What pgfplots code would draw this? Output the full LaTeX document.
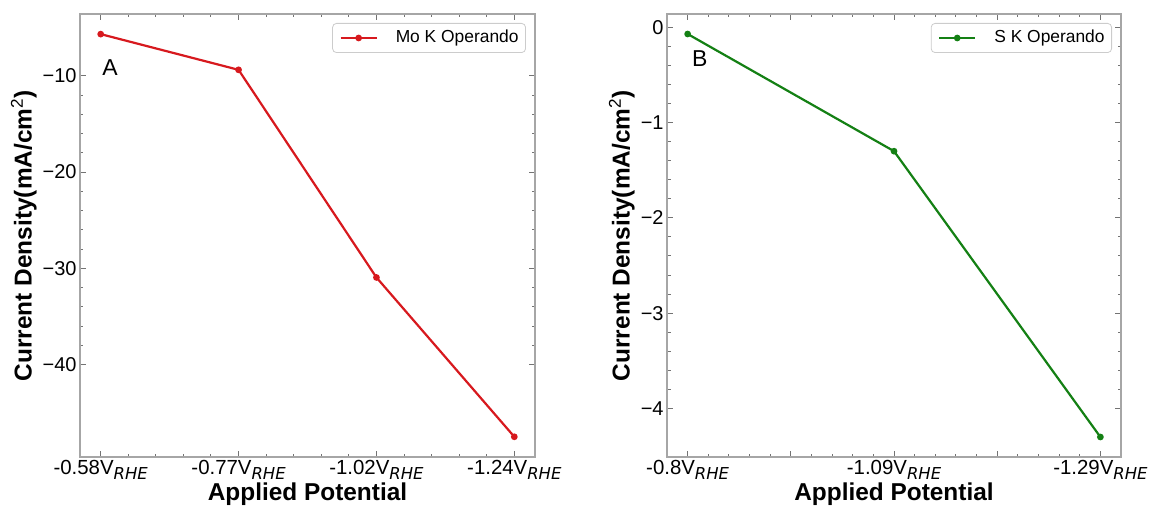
\documentclass[border=0pt]{standalone}
\usepackage{fontspec}
\setmainfont{Liberation Sans}
\newfontfamily\dejavu{DejaVu Sans}
\usepackage{pgfplots}
\pgfplotsset{compat=1.18}
\definecolor{myred}{RGB}{215,25,30}
\definecolor{mygreen}{RGB}{20,128,20}
\newcommand{\rhe}{\raisebox{-2.2pt}{\fontsize{8.2}{9}\selectfont\dejavu\itshape RHE}}
\pgfplotsset{
  common/.style={
    scale only axis,
    axis line style={black!35, line width=0.6pt},
    tick style={black!55, line width=0.5pt},
    tick align=inside,
    major tick length=3pt, minor tick length=1.75pt,
    minor tick num=4,
    xticklabel style={font=\fontsize{10.2}{12}\selectfont, inner sep=1.5pt},
    yticklabel style={font=\fontsize{10}{12}\selectfont, inner sep=1.5pt},
    xlabel style={font=\fontsize{12.2}{14}\selectfont\bfseries, anchor=north, inner sep=0pt},
    ylabel style={font=\fontsize{12.2}{14}\selectfont\bfseries, anchor=south, rotate=0, inner sep=0pt},
    xlabel={Applied Potential},
    ylabel={Current Density(mA/cm\textsuperscript{\normalfont 2})},
    legend style={at={(axis description cs:0.9802,0.9797)}, anchor=north east,
      draw=black!20, rounded corners=2pt, font=\fontsize{8.7}{10}\selectfont,
      inner xsep=3.5pt, inner ysep=3.4pt, nodes={inner sep=0pt},
      /tikz/every odd column/.append style={column sep=9pt}},
    legend cell align=left,
    legend image code/.code={\draw[mark repeat=2,mark phase=2,#1] plot coordinates {(0pt,0pt)(9pt,0pt)(18pt,0pt)};},
  }
}
\begin{document}
\begin{tikzpicture}
\path[use as bounding box] (0,0) rectangle (577.5pt,254pt);
\begin{axis}[common,
  at={(40pt,25.5pt)}, anchor=south west,
  width=227.5pt, height=221.5pt,
  xmin=-0.15, xmax=3.15, ymin=-49.6, ymax=-3.58,
  xtick={0,1,2,3},
  xticklabels={-0.58V\rhe,-0.77V\rhe,-1.02V\rhe,-1.24V\rhe},
  ytick={-40,-30,-20,-10},
  yticklabels={−40,−30,−20,−10},
  xlabel style={at={(axis description cs:0.5,-0.0565)}},
  ylabel style={at={(axis description cs:-0.0945,0.5)}},
]
\addplot[myred, line width=1.1pt, mark=*, mark size=1.1pt, mark options={fill=myred}]
  coordinates {(0,-5.67) (1,-9.38) (2,-30.95) (3,-47.5)};
\addlegendentry{Mo K Operando}
\node[anchor=base west, inner sep=0pt, font=\fontsize{11.5}{13}\selectfont] at (axis cs:0.01,-10) {A};
\end{axis}
\begin{axis}[common,
  at={(333.5pt,25.5pt)}, anchor=south west,
  width=227pt, height=221.5pt,
  xmin=-0.1, xmax=2.1, ymin=-4.51, ymax=0.14,
  xtick={0,0.5,1,1.5,2},
  xticklabels={-0.8V\rhe,{},-1.09V\rhe,{},-1.29V\rhe},
  ytick={-4,-3,-2,-1,0},
  yticklabels={−4,−3,−2,−1,0},
  xlabel style={at={(axis description cs:0.5,-0.0565)}},
  ylabel style={at={(axis description cs:-0.0705,0.5)}},
]
\addplot[mygreen, line width=1.1pt, mark=*, mark size=1.1pt, mark options={fill=mygreen}]
  coordinates {(0,-0.07) (1,-1.3) (2,-4.3)};
\addlegendentry{S K Operando}
\node[anchor=base west, inner sep=0pt, font=\fontsize{11.5}{13}\selectfont] at (axis cs:0.02,-0.41) {B};
\end{axis}
\end{tikzpicture}
\end{document}
